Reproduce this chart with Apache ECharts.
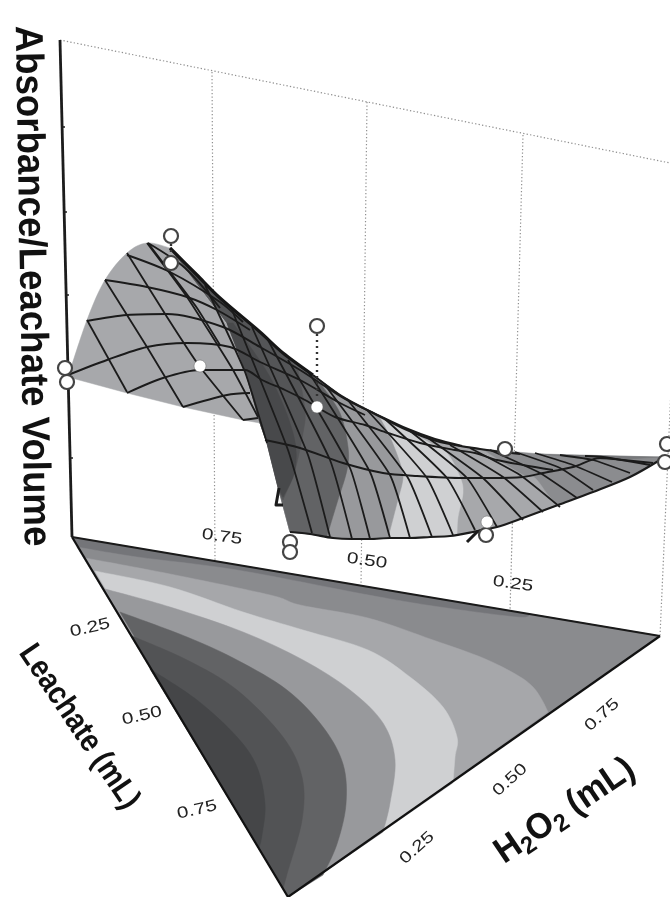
<!DOCTYPE html>
<html><head><meta charset="utf-8">
<style>html,body{margin:0;padding:0;background:#fff}#c{width:670px;height:897px}</style>
<script src="https://cdn.jsdelivr.net/npm/echarts@6/dist/echarts.min.js"></script>
</head><body><div id="c"></div>
<script>
// ---- values, in plot units of the hidden x / y axes ----
const floorA=[72,537], floorB=[288,897], floorC=[660,636];
const contour1=[[77,547],[137,557],[237,570],[363,594],[433,606],[517,617],[530,614],[660,636]];
const contour2=[[85,558],[170,574],[270,595],[300,605],[368,618],[433,640],[483,658],[517,675],[533,687],[542,700],[548,712]];
const contour3=[[95,571],[170,587],[243,612],[303,630],[368,650],[410,677],[443,707],[457,737],[455,757],[453,783]];
const contour4=[[105,589],[170,607],[243,632],[303,660],[350,690],[383,723],[395,760],[390,803],[383,832]];
const contour5=[[120,612],[187,637],[237,660],[287,690],[323,727],[343,764],[346,804],[337,844],[323,875]];
const contour6=[[132,636],[187,660],[237,690],[283,737],[302,777],[302,820],[287,874],[283,889]];
const contour7=[[150,669],[197,700],[237,737],[257,767],[265,804],[262,835],[259,848]];

const backSheet=[[68,377],[87,320],[105,280],[127,253],[147,243],[170,248],[235,335],[260,423],[243,420],[183,407],[127,393]];
const sheetTop=[[170,248],[197,275],[220,298],[260,332],[283,353],[313,375],[343,397],[373,413],[407,430],[440,442],[480,449],[553,455],[660,457]];
const sheetBottom=[[290,532],[310,534],[333,538],[352,539],[370,539],[390,538],[410,538],[430,537],[450,536],[473,532],[497,527],[523,518],[558,505],[593,492],[630,477],[660,460]];
const sheetLeft=[[290,532],[278,487],[267,443],[260,423],[245,370],[227,323],[170,248]];
const fold5=[[483,450],[523,475],[535,478],[548,495],[558,505]];
const fold4=[[430,443],[447,453],[460,477],[463,493],[458,517],[457,535]];
const fold3=[[380,418],[390,437],[400,463],[403,478],[397,503],[388,538]];
const fold2=[[320,383],[340,413],[348,447],[347,470],[337,503],[327,536]];
const fold1=[[298,370],[305,410],[303,433],[295,470],[283,500]];
const fold0=[[233,323],[270,377],[293,433],[295,470],[283,497],[278,487],[267,443],[260,423],[245,370],[227,323]];
const topSliver=[[540,454],[660,457],[612,460],[580,458]];

const meshLong=[
 [[232,310],[288,450],[312,533]],[[252,327],[308,455],[330,537]],[[268,340],[330,460],[352,539]],
 [[288,360],[350,468],[370,539]],[[308,371],[370,472],[390,538]],[[325,385],[390,475],[410,538]],
 [[347,399],[408,478],[432,537]],[[367,410],[427,478],[453,535]],[[385,419],[447,478],[475,530]],
 [[410,431],[467,478],[497,527]],[[428,438],[483,478],[523,520]],[[450,445],[503,477],[543,512]],
 [[470,448],[520,475],[560,507]],[[490,450],[540,473],[577,498]],[[515,452],[560,468],[593,490]],
 [[535,453],[573,465],[612,482]],[[560,455],[593,460],[630,473]],[[585,456],[603,457],[650,465]],
 [[87,320],[127,392]],[[105,280],[147,347],[183,407]],[[127,253],[167,317],[200,367],[243,420]],
 [[147,243],[187,297],[233,370],[258,417]],[[148,243],[170,272],[197,308],[220,345]],
 [[205,285],[245,372],[267,443]]
];
const meshCross=[
 [[265,440],[300,448],[343,463],[383,473],[417,476],[463,478],[490,478],[523,477],[543,473],[573,467],[600,458],[623,460],[653,463]],
 [[127,393],[163,378],[200,370],[245,370],[262,380],[285,390],[305,400],[335,417],[365,425],[388,433],[420,443],[455,450],[475,453],[497,460],[523,465],[553,470]],
 [[68,375],[107,360],[147,347],[187,343],[230,347],[260,362],[300,380],[340,403],[365,415]],
 [[183,407],[227,395],[250,393]],[[243,420],[258,418]],
 [[87,321],[127,315],[167,314],[223,327],[260,347],[300,370],[345,399],[378,415],[408,429],[435,439],[462,446]],
 [[105,280],[147,287],[187,297],[217,310],[250,330]],
 [[127,255],[170,272],[220,302],[243,322]],
 [[148,243],[185,268],[220,308]]
];
const ridgeHeavy=[[170,248],[197,275],[220,298],[260,332],[283,353],[313,375]];
const ridgeLight=[[313,375],[343,397],[373,413],[407,430],[440,442],[480,449],[520,454]];
const strayMarks=[[[279,488],[276,505],[283,505]],[[467,542],[477,532],[483,530]]];

const openPoints=[[171,236],[171,263],[317,326],[65,368],[67,382],[290,542],[290,552],[505,449],[486,535],[667,444],[665,462]];
const solidPoints=[[200,366],[317,407],[487,522]];
const dropLines=[[[317,334],[317,400]],[[171,244],[171,257]]];

const zAxisLine=[[60,40],[72,537]];
const zTicks=[[62,127],[64,212],[66,295],[68,378],[70,458]];
const backEdge=[[60,40],[670,163]];
const backVerticals=[[[212,72],[215,561]],[[367,102],[361,586]],[[523,135],[510,611]],[[670.5,400],[660,636]]];

const edgeTicksTop=[['0.75',222,537],['0.50',367,561],['0.25',513,584]];
const edgeTicksLeft=[['0.25',90,628],['0.50',142,716],['0.75',197,810]];
const edgeTicksRight=[['0.25',417,848],['0.50',510,780],['0.75',602,715]];
const titleZ=['Absorbance/Leachate Volume',31,286];
const titleLeachate=['Leachate (mL)',79,727];
const titleH2O2=['H{s|2}O{s|2} (mL)',565,811];

// ---- styling and construction ----
const floorShades=['#747579','#8a8b8e','#a6a7aa','#cfd0d2','#98999c','#626365','#525355','#454648'];
const floorContours=[contour1,contour2,contour3,contour4,contour5,contour6,contour7];
function foldPoly(b){
  const end=b[b.length-1],start=b[0];
  const bot=sheetBottom.filter(p=>p[0]<end[0]-1).reverse();
  const top=sheetTop.filter(p=>p[0]<start[0]-1);
  return b.concat(bot,sheetLeft.slice(1),top.slice(1));
}
const polys=[];
polys.push({p:[floorA,floorC,floorB],n:0,c:floorShades[0]});
floorContours.forEach((b,i)=>polys.push({p:b.concat([floorB]),n:i===0?b.length-1:b.length,c:floorShades[i+1]}));
polys.push({p:backSheet,n:6,c:'#a7a8ab'});
polys.push({p:sheetTop.concat(sheetBottom.slice().reverse(),sheetLeft.slice(1)),n:0,c:'#8b8c8f'});
polys.push({p:topSliver,n:0,c:'#77787b'});
polys.push({p:foldPoly(fold5),n:fold5.length,c:'#a7a8ab'});
polys.push({p:foldPoly(fold4),n:fold4.length,c:'#cfd0d2'});
polys.push({p:foldPoly(fold3),n:fold3.length,c:'#98999c'});
polys.push({p:foldPoly(fold2),n:fold2.length,c:'#626365'});
polys.push({p:foldPoly(fold1),n:fold1.length,c:'#545557'});
polys.push({p:fold0,n:5,c:'#48494b'});

// outline of a band: the first n vertices are joined by a smooth curve, the rest by straight edges
function bandPath(pts,n){
  let d='M'+pts[0][0]+' '+pts[0][1];
  for(let i=1;i<pts.length;i++){
    if(i<n){
      const a=pts[Math.max(i-2,0)],b=pts[i-1],c=pts[i],e=pts[Math.min(i+1,n-1)];
      d+='C'+(b[0]+(c[0]-a[0])/6)+' '+(b[1]+(c[1]-a[1])/6)+' '+(c[0]-(e[0]-b[0])/6)+' '+(c[1]-(e[1]-b[1])/6)+' '+c[0]+' '+c[1];
    } else d+='L'+pts[i][0]+' '+pts[i][1];
  }
  return d+'Z';
}
function line(data,w,color,z,type,smooth){
  return {type:'line',data,showSymbol:false,symbol:'none',silent:true,z,clip:false,smooth:smooth||false,
    lineStyle:{width:w,color,type:type||'solid',cap:'butt',join:'round'},animation:false};
}
function labelSeries(items,o){
  return {type:'custom',coordinateSystem:'cartesian2d',z:8,silent:true,clip:false,data:items.map((t,i)=>[t[1],t[2],i]),
    renderItem:(params,api)=>{
      const c=api.coord([api.value(0),api.value(1)]);
      return {type:'text',x:c[0],y:c[1],rotation:o.rot*Math.PI/180,scaleX:o.sx,scaleY:1,
        style:{text:items[api.value(2)][0],fontFamily:o.font,fontWeight:o.weight,fontSize:o.size,fill:o.color,align:'center',verticalAlign:'middle',
          rich:{s:{fontFamily:o.font,fontWeight:o.weight,fontSize:o.size*0.68,fill:o.color,padding:[18,0,0,0]}}}};
    }};
}
const series=[];
series.push({type:'custom',coordinateSystem:'cartesian2d',z:2,silent:true,data:polys.map((_,i)=>[i]),
  renderItem:(params,api)=>{const q=polys[api.value(0)];
    const pts=q.p.map(v=>api.coord(v));
    return {type:'path',shape:{pathData:bandPath(pts,q.n)},style:{fill:q.c,stroke:q.c,lineWidth:0.5}};}});
backVerticals.forEach(v=>series.push(line(v,1.2,'#8f8f8f',1,[1.3,2.2])));
series.push(line(backEdge,1.2,'#8f8f8f',1,[1.3,2.2]));
series.push(line(zAxisLine,2.8,'#1c1c1c',4));
zTicks.forEach(t=>series.push(line([t,[t[0]+3,t[1]]],1.5,'#1c1c1c',4)));
series.push(line([floorA,floorB],2.2,'#111',3));
series.push(line([floorB,floorC],2.2,'#111',3));
series.push(line([floorA,floorC],1.8,'#1a1a1a',3));
meshLong.forEach(l=>series.push(line(l,1.8,'#1b1b1b',4,null,0.15)));
meshCross.forEach(l=>series.push(line(l,1.9,'#1b1b1b',4,null,0.3)));
series.push(line(ridgeHeavy,3.2,'#161616',4,null,0.3));
series.push(line(ridgeLight,2.2,'#1b1b1b',4,null,0.3));
series.push(line(sheetBottom,2.2,'#1b1b1b',4,null,0.3));
strayMarks.forEach(l=>series.push(line(l,3,'#1b1b1b',4)));
dropLines.forEach(l=>series.push(line(l,2.4,'#333',5,[2,4])));
series.push({type:'scatter',z:6,silent:true,symbol:'circle',symbolSize:14,data:openPoints,itemStyle:{color:'#fff',borderColor:'#444',borderWidth:2.2,opacity:1}});
series.push({type:'scatter',z:6,silent:true,symbol:'circle',symbolSize:12,data:solidPoints,itemStyle:{color:'#fff',borderColor:'#666',borderWidth:0.5,opacity:1}});
const tickFont={font:'Liberation Sans',weight:'normal',size:16,sx:1.3,color:'#222'};
series.push(labelSeries(edgeTicksTop,{...tickFont,rot:-8}));
series.push(labelSeries(edgeTicksLeft,{...tickFont,rot:13}));
series.push(labelSeries(edgeTicksRight,{...tickFont,rot:42}));
series.push(labelSeries([titleZ],{font:'Liberation Sans',weight:'bold',size:39,sx:0.94,rot:-89,color:'#111'}));
series.push(labelSeries([titleLeachate],{font:'Liberation Sans',weight:'bold',size:32,sx:0.88,rot:-56,color:'#111'}));
series.push(labelSeries([titleH2O2],{font:'Liberation Sans',weight:'bold',size:36,sx:0.95,rot:34,color:'#111'}));

const chart=echarts.init(document.getElementById('c'),null,{renderer:'canvas'});
chart.setOption({animation:false,backgroundColor:'#fff',
  grid:{left:0,right:0,top:0,bottom:0,containLabel:false},
  xAxis:{type:'value',min:0,max:670,show:false},
  yAxis:{type:'value',min:0,max:897,inverse:true,show:false},
  series});
</script></body></html>
